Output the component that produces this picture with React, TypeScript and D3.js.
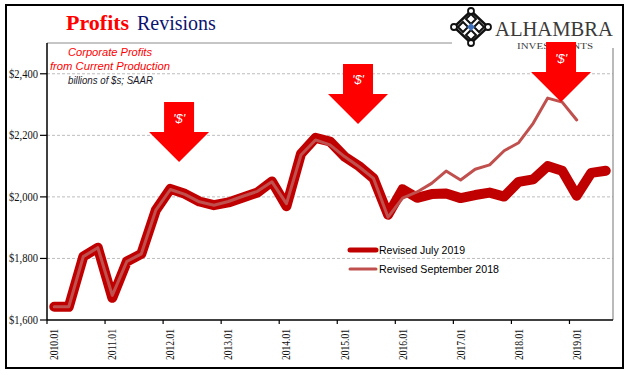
import React from 'react';
import * as d3 from 'd3';

// ---- data ----
const categories = [
  '2010.01','2010.04','2010.07','2010.10',
  '2011.01','2011.04','2011.07','2011.10',
  '2012.01','2012.04','2012.07','2012.10',
  '2013.01','2013.04','2013.07','2013.10',
  '2014.01','2014.04','2014.07','2014.10',
  '2015.01','2015.04','2015.07','2015.10',
  '2016.01','2016.04','2016.07','2016.10',
  '2017.01','2017.04','2017.07','2017.10',
  '2018.01','2018.04','2018.07','2018.10',
  '2019.01','2019.04','2019.07'
];

const revisedJuly2019 = [
  1643, 1643, 1806, 1835, 1672, 1790, 1815, 1957,
  2026, 2010, 1985, 1973, 1982, 1998, 2014, 2050,
  1970, 2140, 2192, 2180, 2131, 2100, 2060, 1942,
  2025, 1997, 2009, 2011, 1996, 2006, 2014, 2001,
  2049, 2057, 2100, 2085, 2004, 2078, 2085
];

const revisedSept2018: (number | null)[] = [
  1643, 1643, 1806, 1835, 1680, 1790, 1815, 1957,
  2024, 2008, 1984, 1973, 1985, 2002, 2018, 2049,
  1978, 2136, 2185, 2169, 2131, 2098, 2060, 1934,
  1996, 2016, 2044, 2084, 2055, 2090, 2104, 2150,
  2176, 2239, 2321, 2308, 2250, null, null
];

const yTickValues = [1600, 1800, 2000, 2200, 2400];
const gridValues = [1800, 2000, 2200, 2400];

// annotation arrows: tip position in data terms (category index, value)
const arrowIndex = [8.6, 20.93, 34.92];
const arrowValue = [2113, 2237, 2308];

const seriesNames = ['Revised July 2019', 'Revised September 2018'];

// ---- layout ----
const W = 641;
const H = 375;
const left = 47;
const right = 613;
const top = 43;
const bottom = 320;

const THICK = '#C00000';
const THIN = '#C0504D';

export default function App() {
  const x = d3.scaleLinear().domain([-0.5, categories.length - 0.5]).range([left, right]);
  const y = d3.scaleLinear().domain([1600, 2500]).range([bottom, top]);

  const lineJuly = d3
    .line<number>()
    .x((_, i) => x(i))
    .y((d) => y(d));

  const lineSept = d3
    .line<number | null>()
    .defined((d) => d != null)
    .x((_, i) => x(i))
    .y((d) => y(d as number));

  const yearIdx = categories
    .map((c, i) => ({ c, i }))
    .filter((d) => d.c.endsWith('.01'));

  const arrowPath = (tx: number, ty: number) =>
    `M${tx - 15},${ty - 60} L${tx + 15},${ty - 60} L${tx + 15},${ty - 30} L${tx + 30},${ty - 30} L${tx},${ty} L${tx - 30},${ty - 30} L${tx - 15},${ty - 30} Z`;

  const lx = 471;
  const ly = 27;

  return (
    <svg
      width={W}
      height={H}
      style={{ position: 'absolute', left: 0, top: 0, background: '#fff' }}
      fontFamily="'Liberation Sans', Arial, sans-serif"
    >
      <rect x={0} y={0} width={W} height={H} fill="#fff" />
      {/* outer frame */}
      <rect x={6} y={5} width={617} height={363} fill="none" stroke="#000" strokeWidth={2} />

      {/* gridlines */}
      {gridValues.map((v) => (
        <line
          key={v}
          x1={left}
          x2={right}
          y1={y(v)}
          y2={y(v)}
          stroke="#BDBDBD"
          strokeWidth={1}
          strokeDasharray="3,2"
        />
      ))}

      {/* plot frame (top & right) */}
      <line x1={left} x2={452} y1={top} y2={top} stroke="#8C8C8C" strokeWidth={1} />
      <line x1={right} x2={right} y1={48} y2={bottom} stroke="#8C8C8C" strokeWidth={1.2} />

      {/* axes */}
      <line x1={left} x2={left} y1={top} y2={bottom} stroke="#000" strokeWidth={1.5} />
      <line x1={left} x2={right} y1={bottom} y2={bottom} stroke="#000" strokeWidth={1.5} />

      {yTickValues.map((v) => (
        <g key={v}>
          <line x1={left - 7} x2={left} y1={y(v)} y2={y(v)} stroke="#000" strokeWidth={1.2} />
          <text
            x={38}
            y={y(v)}
            textAnchor="end"
            dominantBaseline="central"
            fontFamily="'Liberation Serif', 'Times New Roman', serif"
            fontSize={12}
            textLength={29}
            lengthAdjust="spacingAndGlyphs"
            fill="#111"
          >
            {d3.format('$,')(v)}
          </text>
        </g>
      ))}

      {yearIdx.map(({ c, i }) => (
        <g key={c}>
          <line x1={x(i - 0.5)} x2={x(i - 0.5)} y1={bottom} y2={bottom + 4} stroke="#000" strokeWidth={1.2} />
          <text
            transform={`translate(${x(i)},329) rotate(-90)`}
            textAnchor="end"
            dominantBaseline="central"
            fontFamily="'Liberation Serif', 'Times New Roman', serif"
            fontSize={11.5}
            textLength={31}
            lengthAdjust="spacingAndGlyphs"
            fill="#111"
          >
            {c}
          </text>
        </g>
      ))}

      {/* series */}
      <path
        d={lineJuly(revisedJuly2019) || ''}
        fill="none"
        stroke={THICK}
        strokeWidth={10}
        strokeLinejoin="round"
        strokeLinecap="round"
      />
      <path
        d={lineSept(revisedSept2018) || ''}
        fill="none"
        stroke={THIN}
        strokeWidth={3}
        strokeLinejoin="round"
        strokeLinecap="round"
      />

      {/* logo backdrop */}
      <rect x={453} y={6} width={169} height={41} fill="#fff" />

      {/* logo */}
      <g>
        <polygon
          points={`${lx},${ly - 16} ${lx + 17},${ly} ${lx},${ly + 16} ${lx - 17},${ly}`}
          fill="#fff"
          stroke="#111"
          strokeWidth={2.5}
        />
        {[[-8, 0], [8, 0], [0, -8], [0, 8]].map(([dx, dy], k) => (
          <polygon
            key={k}
            points={`${lx + dx},${ly + dy - 5} ${lx + dx + 5},${ly + dy} ${lx + dx},${ly + dy + 5} ${lx + dx - 5},${ly + dy}`}
            fill="none"
            stroke="#111"
            strokeWidth={2}
          />
        ))}
        {[[-17, 0], [17, 0], [0, -16], [0, 16]].map(([dx, dy], k) => (
          <circle key={k} cx={lx + dx} cy={ly + dy} r={3} fill="#fff" stroke="#111" strokeWidth={1.8} />
        ))}
        <polygon
          points={`${lx},${ly - 4} ${lx + 4},${ly} ${lx},${ly + 4} ${lx - 4},${ly}`}
          fill="#3E6FB8"
        />
      </g>
      <text x={495} y={36} fontFamily="'Liberation Serif', 'Times New Roman', serif" fontSize={22} fill="#3a3a3a" textLength={118} lengthAdjust="spacingAndGlyphs">
        ALHAMBRA
      </text>
      <text x={517} y={48.5} fontFamily="'Liberation Serif', 'Times New Roman', serif" fontSize={8} fill="#3a3a3a" textLength={76} lengthAdjust="spacingAndGlyphs">
        INVESTMENTS
      </text>

      {/* arrows (drawn over the logo text, as in the reference) */}
      {arrowIndex.map((ai, k) => {
        const tx = x(ai);
        const ty = y(arrowValue[k]);
        return (
          <g key={k}>
            <path d={arrowPath(tx, ty)} fill="#FF0000" />
            <text
              x={tx}
              y={ty - 44}
              textAnchor="middle"
              dominantBaseline="central"
              fontSize={13}
              fontStyle="italic"
              fill="#fff"
            >
              {"'$'"}
            </text>
          </g>
        );
      })}

      {/* title */}
      <text x={66} y={30} fontFamily="'Liberation Serif', 'Times New Roman', serif">
        <tspan fontSize={22} fontWeight="bold" fill="#FF0000">Profits</tspan>
        <tspan x={137} fontSize={20} fill="#0B1470">Revisions</tspan>
      </text>

      {/* subtitle annotation */}
      <text x={110} y={56} textAnchor="middle" fontSize={11.5} fontStyle="italic" fill="#FF0000" textLength={84} lengthAdjust="spacingAndGlyphs">
        Corporate  Profits
      </text>
      <text x={110} y={70} textAnchor="middle" fontSize={11.5} fontStyle="italic" fill="#FF0000" textLength={120} lengthAdjust="spacingAndGlyphs">
        from Current Production
      </text>
      <text x={110.5} y={83.5} textAnchor="middle" fontSize={10} fontStyle="italic" fill="#1a1a2a" textLength={85} lengthAdjust="spacingAndGlyphs">
        billions of $s; SAAR
      </text>

      {/* legend */}
      <line x1={350} x2={376} y1={250} y2={250} stroke={THICK} strokeWidth={5} strokeLinecap="round" />
      <text x={379} y={250} dominantBaseline="central" fontSize={11.5} fill="#000" textLength={86} lengthAdjust="spacingAndGlyphs">
        {seriesNames[0]}
      </text>
      <line x1={350} x2={376} y1={269} y2={269} stroke={THIN} strokeWidth={3} strokeLinecap="round" />
      <text x={379} y={269} dominantBaseline="central" fontSize={11.5} fill="#000" textLength={120} lengthAdjust="spacingAndGlyphs">
        {seriesNames[1]}
      </text>
    </svg>
  );
}
